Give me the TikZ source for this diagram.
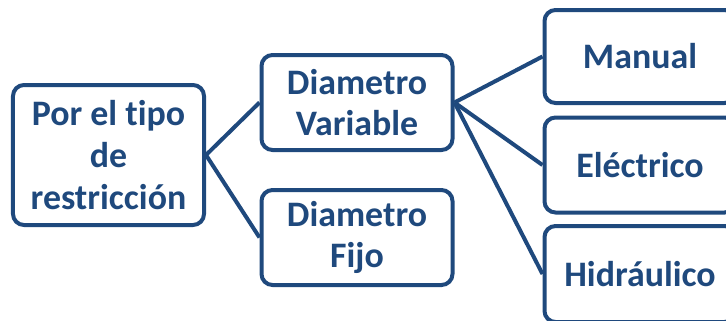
\documentclass[tikz,border=0pt]{standalone}
\usepackage{fontspec}
\setmainfont[RawFeature=-liga]{Carlito}
\definecolor{dkblue}{HTML}{1F497D}
\begin{document}
\begin{tikzpicture}[x=1bp,y=-1bp,
  box/.style={draw=dkblue, line width=4bp, rounded corners=11bp, fill=white,
    text=dkblue, font=\fontsize{36}{42}\selectfont\bfseries, align=center,
    inner sep=0pt, minimum width=191bp},
  link/.style={draw=dkblue, line width=4bp}]
\useasboundingbox (0,0) rectangle (726,320);
\clip (0,0) rectangle (726,320);
\node[box, minimum height=140bp] (root) at (108.5,155) {Por el tipo\\de\\restricción};
\node[box, minimum height=95bp] (dv) at (357,102.5) {Diametro\\Variable};
\node[box, minimum height=95bp] (df) at (357,237.5) {Diametro\\Fijo};
\node[box, minimum height=93bp] (man) at (640,56.5) {Manual};
\node[box, minimum height=95bp] (ele) at (640,165) {Eléctrico};
\node[box, minimum height=96bp] (hid) at (640,274) {Hidráulico};
\draw[link] (root.east) -- (dv.west);
\draw[link] (root.east) -- (df.west);
\draw[link] (dv.east) -- (man.west);
\draw[link] (dv.east) -- (ele.west);
\draw[link] (dv.east) -- (hid.west);
\end{tikzpicture}
\end{document}
